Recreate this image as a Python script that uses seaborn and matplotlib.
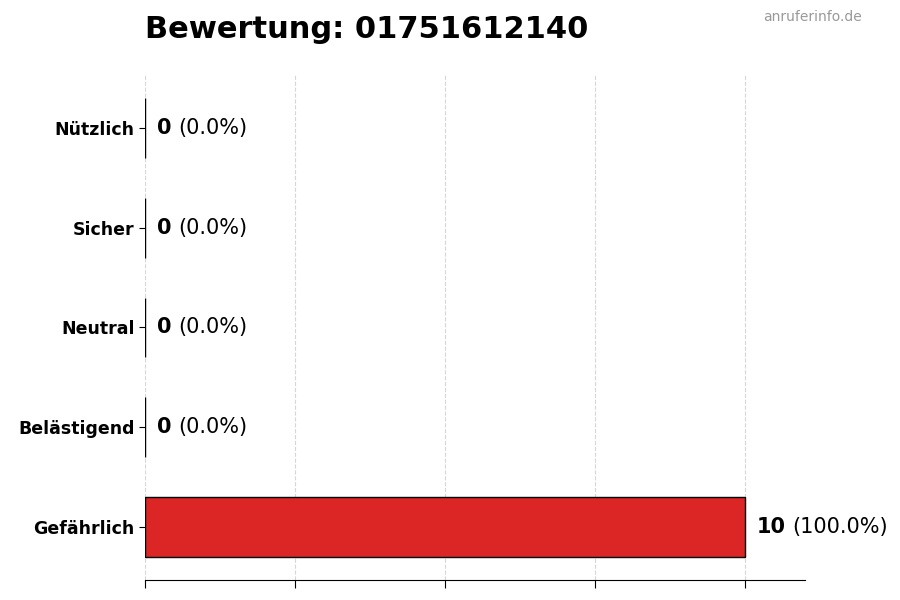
import matplotlib
matplotlib.use('Agg')
import matplotlib.pyplot as plt
import matplotlib.transforms as mtransforms
import seaborn as sns
import pandas as pd

# Data
categories = ['Nützlich', 'Sicher', 'Neutral', 'Belästigend', 'Gefährlich']
counts = [0, 0, 0, 0, 10]
colors = ['#16a34a', '#22c55e', '#9ca3af', '#f59e0b', '#dc2626']
title = 'Bewertung: 01751612140'
watermark = 'anruferinfo.de'

df = pd.DataFrame({'kategorie': categories, 'anzahl': counts})
total = sum(counts)

sns.set_style('white')
plt.rcParams.update({'text.color': 'black', 'axes.labelcolor': 'black',
                     'xtick.color': 'black', 'ytick.color': 'black',
                     'axes.edgecolor': 'black'})
fig = plt.figure(figsize=(9, 6), dpi=100)
ax = fig.add_axes([0.161, 0.0333, 0.733, 0.8417])

sns.barplot(data=df, x='anzahl', y='kategorie', hue='kategorie', palette=colors,
            order=categories, legend=False, width=0.6, orient='h',
            edgecolor='black', linewidth=1, saturation=1, ax=ax)

ax.set_xlim(0, 11)
ax.set_ylim(4.532, -0.531)
ax.set_xticks([0, 2.5, 5, 7.5, 10])
ax.set_xticklabels([])
ax.set_xlabel('')
ax.set_ylabel('')
ax.grid(axis='x', linestyle='--', color='#cccccc', linewidth=0.8, alpha=0.8)
ax.set_axisbelow(True)
sns.despine(ax=ax, left=True)
ax.tick_params(axis='y', length=4, width=0.8, left=True, labelsize=12.5)
ax.tick_params(axis='x', length=6, width=0.8, bottom=True)
for lab in ax.get_yticklabels():
    lab.set_fontweight('bold')

# value labels: bold count followed by normal percentage
fig.canvas.draw()
renderer = fig.canvas.get_renderer()
for i, (cat, n) in enumerate(zip(categories, counts)):
    pct = n / total * 100 if total else 0
    t = ax.text(n + 0.2, i, str(n), va='center', ha='left',
                fontsize=15, fontweight='bold')
    w = t.get_window_extent(renderer=renderer).width
    off = mtransforms.offset_copy(ax.transData, fig=fig, x=w * 72 / fig.dpi + 5, y=0, units='points')
    ax.text(n + 0.2, i, f'({pct:.1f}%)', va='center', ha='left',
            fontsize=15, transform=off)

fig.text(0.161, 0.95, title, fontsize=22, fontweight='bold', ha='left', va='center')
fig.text(0.958, 0.972, watermark, fontsize=10, color='#999999', ha='right', va='center')

fig.savefig('out.png', dpi=100)
